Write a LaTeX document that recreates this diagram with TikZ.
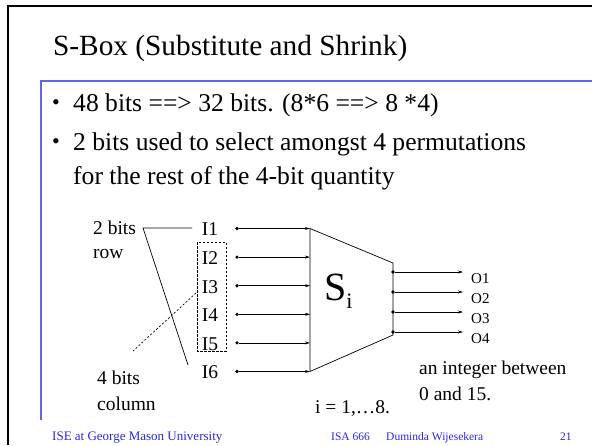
\documentclass[tikz,border=0pt]{standalone}
\usepackage{fontspec}
\setmainfont{Liberation Serif}
\usetikzlibrary{arrows.meta}
\definecolor{slideblue}{RGB}{100,100,235}
\definecolor{footblue}{RGB}{40,40,225}
\tikzset{
  txt/.style={inner sep=0pt, anchor=base west, font=\fontsize{19.5}{22}\selectfont},
  btxt/.style={inner sep=0pt, anchor=base west, font=\fontsize{25.6}{30}\selectfont},
  bdot/.style={inner sep=0pt, anchor=base west, font=\fontsize{22}{24}\selectfont},
  foot/.style={inner sep=0pt, anchor=base west, text=footblue},
  ilab/.style={inner sep=0pt, anchor=center, font=\fontsize{19.5}{22}\selectfont},
  olab/.style={inner sep=0pt, anchor=west, font=\fontsize{15}{17}\selectfont},
  pin/.style={circle, fill=black, inner sep=0pt, minimum size=3.6pt},
  arr/.style={-{Stealth[length=5pt,width=3pt]}, line width=0.7pt},
  thin line/.style={line width=0.7pt}
}
\begin{document}
\begin{tikzpicture}[x=1pt,y=-1pt]
\useasboundingbox (0,0) rectangle (592,445);
% frame
\draw[line width=2.2pt] (8.3,445) -- (8.3,6) -- (592,6);
\draw[slideblue, line width=1.3pt] (592,81) -- (41,81) -- (41,420);
% title
\node[inner sep=0pt, anchor=base west, font=\fontsize{29.3}{32}\selectfont] (title) at (53,55) {S-Box (Substitute and Shrink)};
% bullets
\node[bdot] (b1) at (52,109) {\textbullet};
\node[btxt] (t1) at (73,111) {48 bits ==> 32 bits. (8*6 ==> 8 *4)};
\node[bdot] (b2) at (52,148) {\textbullet};
\node[btxt] (t2) at (73,150) {2 bits used to select amongst 4 permutations};
\node[btxt] (t3) at (73,184) {for the rest of the 4-bit quantity};
% left labels
\node[txt] (twobits) at (93,234) {2 bits};
\node[txt] (row) at (93,258) {row};
\node[txt] (fourbits) at (97,384) {4 bits};
\node[txt] (column) at (97,410) {column};
% inputs
\foreach \k/\y in {1/228.5,2/257.1,3/285.7,4/314.3,5/342.9,6/371.5}{
  \node[ilab] (I\k) at (210,\y+1) {I\k};
  \node[pin] (d\k) at (237,\y) {};
  \coordinate (e\k) at (310,\y);
  \draw[arr] (d\k) -- (e\k);
}
% S-box trapezoid
\coordinate (tl) at (310,228.5);
\coordinate (bl) at (310,371.5);
\coordinate (tr) at (393,263);
\coordinate (br) at (393,335);
\draw[thin line] (tl) -- (tr) -- (br) -- (bl) -- cycle;
\node[inner sep=0pt, anchor=base west] (S) at (324,300) {\fontsize{40}{40}\selectfont S\raisebox{-8pt}{\fontsize{22}{22}\selectfont i}};
% outputs
\foreach \k/\y in {1/272,2/292,3/312,4/332}{
  \node[pin] (o\k) at (393,\y) {};
  \coordinate (f\k) at (463,\y);
  \draw[arr] (o\k) -- (f\k);
  \node[olab] (O\k) at (471,\y+7) {O\k};
}
% dashed box around I2..I5
\draw[thin line, dash pattern=on 2.5pt off 1.5pt] (197,242) rectangle (226,351);
% 2 bits connector
\coordinate (c2) at (143,228);
\coordinate (c2a) at (192,228);
\coordinate (c2b) at (188,365);
\draw[thin line] (c2a) -- (c2) -- (c2b);
% 4 bits dotted connector
\coordinate (c4a) at (196,293);
\coordinate (c4b) at (133,351);
\draw[thin line, dash pattern=on 2pt off 2pt] (c4a) -- (c4b);
% notes
\node[txt] (irange) at (315,413) {i = 1,\ldots8.};
\node[txt] (int1) at (419,374) {an integer between};
\node[txt] (int2) at (419,400) {0 and 15.};
% footer
\node[foot, font=\fontsize{13}{14}\selectfont] (f1) at (52,440) {ISE at George Mason University};
\node[foot, font=\fontsize{11.5}{14}\selectfont] (f2) at (331,440) {ISA 666};
\node[foot, font=\fontsize{11.5}{14}\selectfont] (f3) at (386,440) {Duminda Wijesekera};
\node[foot, font=\fontsize{11.5}{14}\selectfont] (f4) at (560,440) {21};
\end{tikzpicture}
\end{document}
